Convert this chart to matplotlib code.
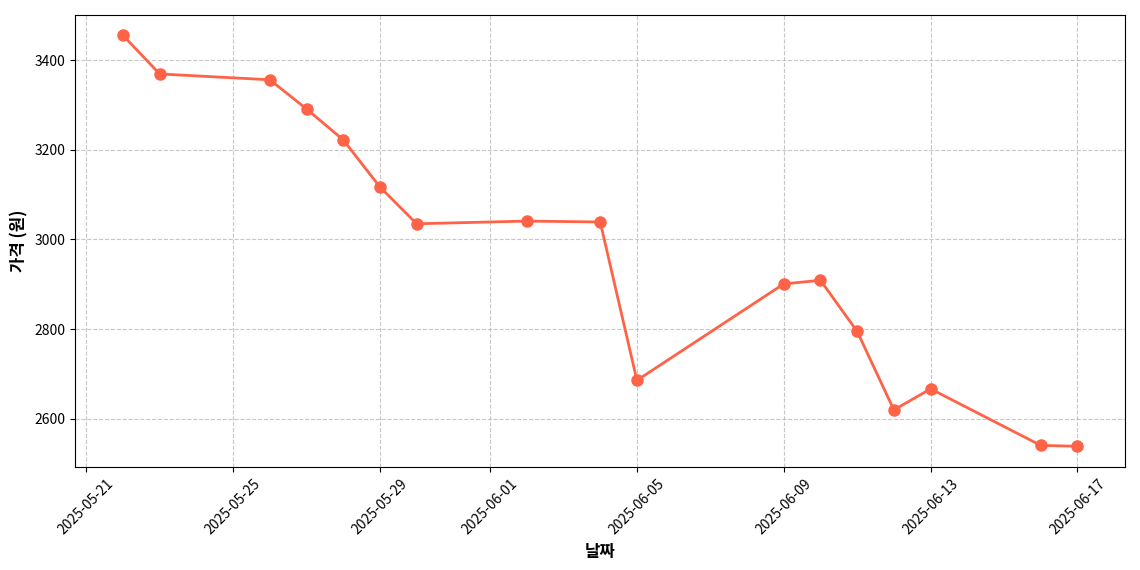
import pandas as pd
import matplotlib
matplotlib.use("Agg")
import matplotlib.pyplot as plt
import matplotlib.dates as mdates

plt.rcParams['font.family'] = ['Noto Sans CJK KR', 'DejaVu Sans']
plt.rcParams['axes.unicode_minus'] = False

# Price data
dates = [
    "2025-05-22", "2025-05-23", "2025-05-26", "2025-05-27", "2025-05-28",
    "2025-05-29", "2025-05-30", "2025-06-02", "2025-06-04", "2025-06-05",
    "2025-06-09", "2025-06-10", "2025-06-11", "2025-06-12", "2025-06-13",
    "2025-06-16", "2025-06-17",
]
prices = [
    3455, 3369, 3356, 3291, 3222,
    3117, 3035, 3041, 3039, 2686,
    2901, 2909, 2795, 2620, 2667,
    2541, 2539,
]

df = pd.DataFrame({"date": pd.to_datetime(dates), "price": prices})

fig, ax = plt.subplots(figsize=(11.4, 5.7), dpi=100)

ax.plot(
    df["date"],
    df["price"],
    color="#FF6347",
    linewidth=2,
    marker="o",
    markersize=8,
)

ax.set_xlabel("날짜", fontsize=12, fontweight="bold")
ax.set_ylabel("가격 (원)", fontsize=12, fontweight="bold")

ax.xaxis.set_major_locator(mdates.DayLocator(bymonthday=[1, 5, 9, 13, 17, 21, 25, 29]))
ax.xaxis.set_major_formatter(mdates.DateFormatter("%Y-%m-%d"))
plt.setp(ax.get_xticklabels(), rotation=45)

ax.grid(True, linestyle="--", alpha=0.7)

fig.subplots_adjust(left=0.066, right=0.987, top=0.974, bottom=0.181)
plt.savefig("out.png")
